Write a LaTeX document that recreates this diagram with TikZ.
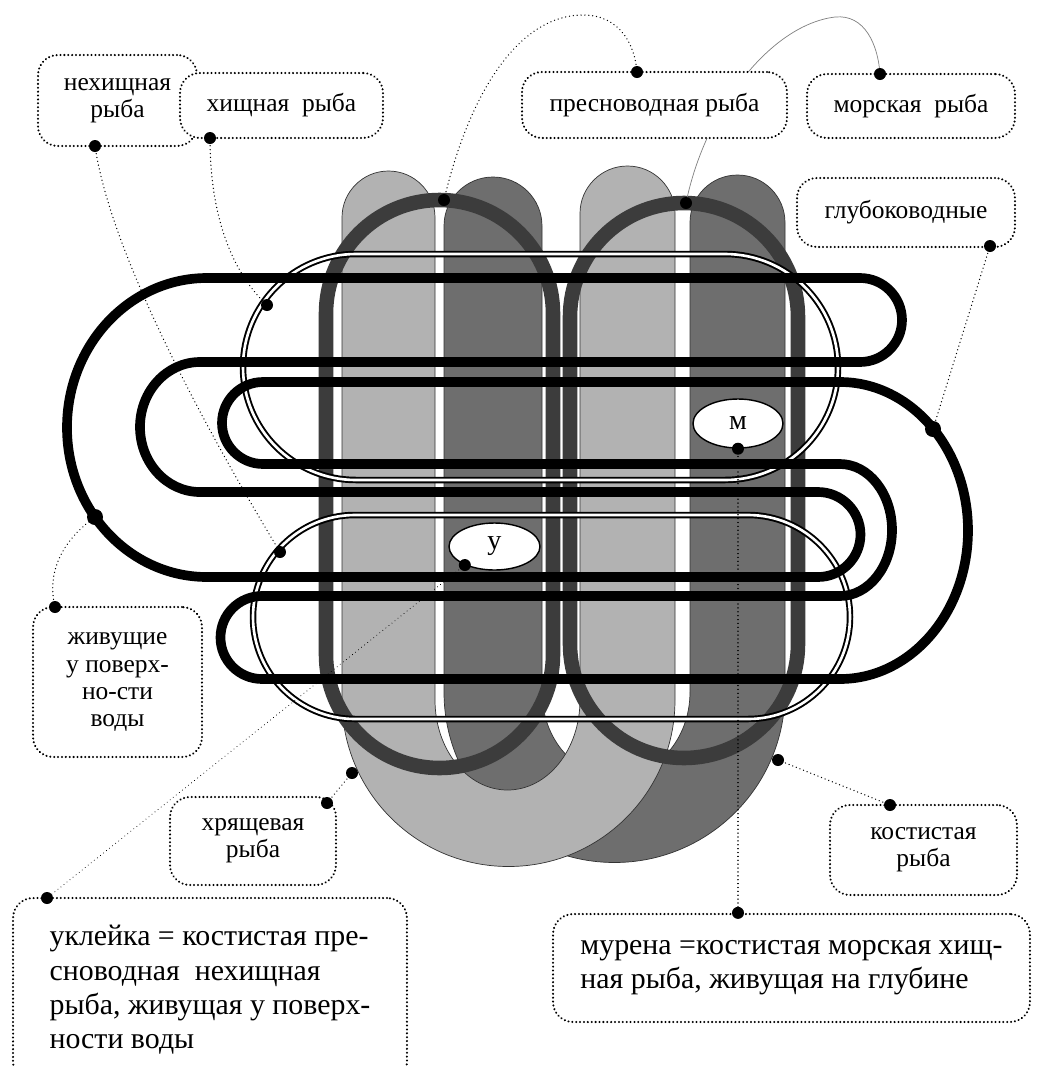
\documentclass[tikz,border=0pt]{standalone}
\usepackage{fontspec}
\setmainfont{Liberation Serif}
\usepackage{tikz}
\usepackage{xcolor}
\usetikzlibrary{shapes.geometric}

\definecolor{paleband}{HTML}{B2B2B2}
\definecolor{darkband}{HTML}{6E6E6E}
\definecolor{ringgray}{HTML}{3C3C3C}

\begin{document}
\begin{tikzpicture}[
    x=0.02cm, y=-0.02cm,
    band/.style={draw=black!80, line width=0.4pt},
    ring/.style={draw=ringgray, line width=8.3pt},
    twin/.style={draw=black, double=white, line width=1.1pt, double distance=1.5pt},
    wire/.style={draw=black, line width=5.5pt, line join=round},
    dotline/.style={dash pattern=on 0.01pt off 2.2pt, line cap=round},
    tagbox/.style={
        rectangle,
        draw,
        dotline,
        line width=1.3pt,
        rounded corners=0.4cm,
        fill=white,
        align=center,
        inner sep=2pt,
        font=\fontsize{14.5}{15.4}\selectfont
    },
    bigbox/.style={tagbox, align=left, font=\fontsize{17}{19.5}\selectfont},
    lead/.style={draw, dotline, line width=0.8pt},
    oval/.style={ellipse, draw, thick, fill=white, inner sep=0pt, font=\fontsize{16}{16}\selectfont},
    blob/.style={fill=black}
]
\useasboundingbox (0,0) rectangle (1036,1066);
\clip (0,0) rectangle (1036,1066);
\fill[white] (0,0) rectangle (1036,1066);

% two U bands
\path[band, fill=darkband] (444,692) -- (444,226) arc[start angle=180, end angle=360, radius=49]
    -- (542,692) arc[start angle=180, end angle=0, x radius=74, y radius=85]
    -- (690,222.5) arc[start angle=180, end angle=360, radius=47.5]
    -- (785,692) arc[start angle=0, end angle=180, radius=170.5] -- cycle;
\path[band, fill=paleband] (342,700) -- (342,217.5) arc[start angle=180, end angle=360, radius=46.5]
    -- (435,700) arc[start angle=180, end angle=0, x radius=72.5, y radius=90]
    -- (580,213.5) arc[start angle=180, end angle=360, radius=47.5]
    -- (675,700) arc[start angle=0, end angle=180, radius=166.5] -- cycle;

% rings
\draw[ring] (326,313.5) arc[start angle=180, end angle=360, radius=113.5]
    -- (553,654.5) arc[start angle=0, end angle=180, radius=113.5] -- cycle;
\draw[ring] (570,317) arc[start angle=180, end angle=360, radius=114]
    -- (798,644) arc[start angle=0, end angle=180, radius=114] -- cycle;

% double loops
\draw[twin] (356,254) -- (725,254) arc[start angle=270, end angle=450, radius=113]
    -- (356,480) arc[start angle=90, end angle=270, radius=113] -- cycle;
\draw[twin] (355,515) -- (748,515) arc[start angle=270, end angle=450, radius=102]
    -- (355,719) arc[start angle=90, end angle=270, radius=102] -- cycle;

% thick loops
\draw[wire] (207,278) -- (860,278) arc[start angle=270, end angle=450, radius=42]
    -- (200,362) arc[start angle=270, end angle=90, x radius=60, y radius=65]
    -- (818,492) arc[start angle=270, end angle=450, radius=42.5]
    -- (207,577) arc[start angle=90, end angle=270, x radius=140, y radius=149.5] -- cycle;
\draw[wire] (263,382) -- (840,382) arc[start angle=270, end angle=450, x radius=128, y radius=148.5]
    -- (262,679) arc[start angle=90, end angle=270, radius=41.5]
    -- (840,596) arc[start angle=90, end angle=-90, x radius=52, y radius=66]
    -- (263,464) arc[start angle=90, end angle=270, radius=41] -- cycle;

% points
\coordinate (nohuntPt) at (95,146);
\coordinate (huntPt) at (210,138);
\coordinate (freshPt) at (637,72);
\coordinate (seaPt) at (880,74);
\coordinate (deepPt) at (990,246);
\coordinate (surfacePt) at (55,607);
\coordinate (cartPt) at (327,803);
\coordinate (bonyPt) at (890,805);
\coordinate (bleakPt) at (47,898);
\coordinate (ringLeftPt) at (444,200);
\coordinate (ringRightPt) at (686,203);
\coordinate (upTwinPt) at (267,305);
\coordinate (lowTwinPt) at (280,552);
\coordinate (leftArcPt) at (95,517);
\coordinate (rightArcPt) at (933,429);
\coordinate (paleEdgePt) at (352,773);
\coordinate (darkEdgePt) at (778,760);

\node[oval, minimum width=1.82cm, minimum height=0.94cm] (ubl) at (494.5,546.5) {у};
\node[oval, minimum width=1.8cm, minimum height=0.98cm] (mur) at (738,423.5) {м};
\coordinate (ublPt) at (ubl.212);

% leaders
\draw[gray, line width=0.4pt] (ringRightPt) .. controls (705,110) and (770,25) .. (835,17)
    .. controls (865,14) and (878,45) .. (seaPt);
\draw[lead] (freshPt) .. controls (635,45) and (620,15) .. (583,15)
    .. controls (520,15) and (470,90) .. (ringLeftPt);
\draw[lead] (nohuntPt) .. controls (110,250) and (200,420) .. (lowTwinPt);
\draw[lead] (huntPt) .. controls (210,230) and (240,280) .. (upTwinPt);
\draw[lead] (deepPt) -- (rightArcPt);
\draw[lead] (surfacePt) .. controls (45,565) and (70,535) .. (leftArcPt);
\draw[lead] (cartPt) -- (paleEdgePt);
\draw[lead] (bonyPt) -- (darkEdgePt);
\draw[lead, line width=0.6pt] (ublPt) -- (bleakPt);

% boxes
\node[tagbox, minimum width=3.18cm, minimum height=1.82cm] (nohunt) at (117.5,100.5) {нехищная\\рыба};
\node[tagbox, minimum width=4.06cm, minimum height=1.3cm] (hunt) at (281.5,105.5) {хищная~ рыба};
\node[tagbox, minimum width=5.3cm, minimum height=1.32cm] (fresh) at (654.5,105) {пресноводная рыба};
\node[tagbox, minimum width=4.16cm, minimum height=1.28cm] (sea) at (911,106) {морская~ рыба};
\node[tagbox, minimum width=4.36cm, minimum height=1.38cm] (deep) at (906,212.5) {глубоководные};
\node[tagbox, minimum width=3.38cm, minimum height=3.0cm] (surface) at (117.5,682) {живущие\\у поверх-\\но-сти\\воды};
\node[tagbox, minimum width=3.32cm, minimum height=1.76cm] (cart) at (253,841) {хрящевая\\рыба};
\node[tagbox, minimum width=3.74cm, minimum height=1.8cm] (bony) at (923.5,850) {костистая\\рыба};
\node[bigbox, minimum width=7.88cm, minimum height=3.68cm] (bleak) at (210,990)
    {уклейка = костистая пре-\\сноводная~ нехищная\\рыба, живущая у поверх-\\ности воды};
\node[bigbox, minimum width=9.54cm, minimum height=2.16cm] (moray) at (791.5,968)
    {мурена =костистая морская хищ-\\ная рыба, живущая на глубине};

\coordinate (murPt) at (mur.south);
\coordinate (morayPt) at (mur.south |- moray.north);
\draw[lead] (murPt) -- (morayPt);

\foreach \p in {nohuntPt, huntPt, freshPt, seaPt, deepPt, surfacePt, cartPt, bonyPt,
    bleakPt, ringLeftPt, ringRightPt, upTwinPt, lowTwinPt, paleEdgePt, darkEdgePt,
    ublPt, murPt, morayPt}
    \fill[blob] (\p) circle[radius=6];
\fill[blob] (leftArcPt) circle[radius=8];
\fill[blob] (rightArcPt) circle[radius=8];

\end{tikzpicture}
\end{document}
